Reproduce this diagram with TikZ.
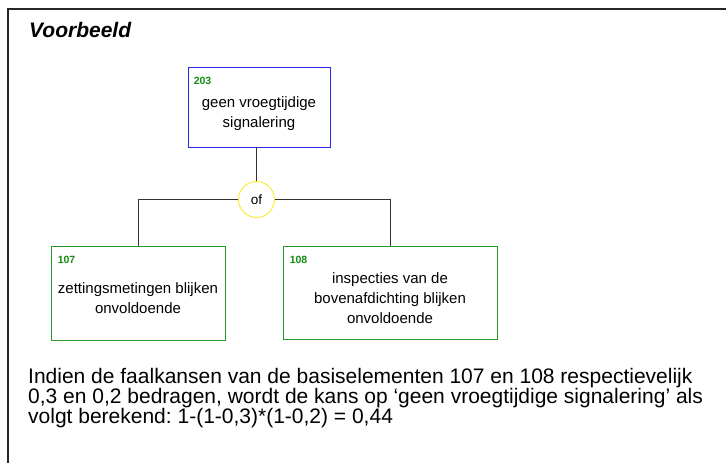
\documentclass[tikz,border=0pt]{standalone}
\usepackage{fontspec}
\setmainfont{Liberation Sans}
\usepackage{xcolor}
\usetikzlibrary{positioning,calc}
\frenchspacing

\definecolor{idgreen}{RGB}{20,140,20}
\definecolor{boxgreen}{RGB}{40,150,40}
\definecolor{boxblue}{RGB}{40,40,245}
\definecolor{gateyellow}{RGB}{245,235,20}

\tikzset{
    event/.style={draw=boxblue, line width=0.8pt, minimum width=142pt, minimum height=80pt},
    basic/.style={draw=boxgreen, line width=0.8pt},
    boxtext/.style={align=center, inner sep=0pt, font=\fontsize{15}{20}\selectfont},
    gate/.style={draw=gateyellow, line width=0.8pt, circle, minimum size=36pt, inner sep=0pt, font=\fontsize{13.5}{15}\selectfont},
    idlabel/.style={text=idgreen, font=\fontsize{10.5}{12}\bfseries\selectfont, inner sep=0pt},
    link/.style={line width=0.6pt, black!80}
}

\begin{document}
\begin{tikzpicture}[x=1pt, y=-1pt]
    \useasboundingbox (0,0) rectangle (726,463);
    \draw [line width=2pt, black!85] (7.5,463) -- (7.5,8.5) -- (726,8.5);

    \node [anchor=base west, font=\fontsize{21}{24}\bfseries\itshape\selectfont, inner sep=0pt] (title) at (29,37) {Voorbeeld};

    % top event and gate
    \node [event] (e203) at (259,107) {};
    \node [boxtext] (t203) at ($(e203.center)+(0,7)$) {geen vroegtijdige\\signalering};
    \node [gate] (of) at (256.5,199.5) {of};

    % basic events
    \node [basic, minimum width=174pt, minimum height=94pt] (e107) at (138,293) {};
    \node [boxtext] (t107) at ($(e107.center)+(0,5)$) {zettingsmetingen blijken\\onvoldoende};
    \node [basic, minimum width=214pt, minimum height=93pt] (e108) at (390,292.5) {};
    \node [boxtext] (t108) at ($(e108.center)+(0,5.5)$) {inspecties van de\\bovenafdichting blijken\\onvoldoende};

    \node [idlabel, below right=10pt and 6pt of e203.north west] (n203) {203};
    \node [idlabel, below right=10pt and 7pt of e107.north west] (n107) {107};
    \node [idlabel, below right=10pt and 7pt of e108.north west] (n108) {108};

    \draw [link] (of.north) -- (of.north |- e203.south);
    \draw [link] (of.west) -| (e107.north);
    \draw [link] (of.east) -| (e108.north);

    % calculation
    \node [anchor=north west, align=left, inner sep=0pt, font=\fontsize{21}{20}\selectfont] (calc) at (28,368)
        {Indien de faalkansen van de basiselementen 107 en 108 respectievelijk\\
         0,3 en 0,2 bedragen, wordt de kans op ‘geen vroegtijdige signalering’ als\\
         volgt berekend: 1-(1-0,3)*(1-0,2) = 0,44};
\end{tikzpicture}
\end{document}
